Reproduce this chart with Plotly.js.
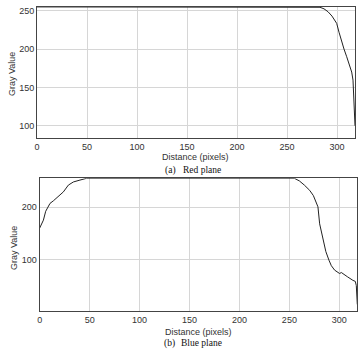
<!DOCTYPE html>
<html>
<head>
<meta charset="utf-8">
<script src="https://cdn.plot.ly/plotly-3.0.1.min.js"></script>
<style>html,body{margin:0;padding:0;background:#fff;}#chart{width:362px;height:350px;}</style>
</head>
<body>
<div id="chart"></div>
<script>
// Red plane profile (top)
const redDist = [0, 280, 283, 287, 291, 295, 299.7, 302, 304.7, 307, 309.7, 312, 314.7, 316, 317, 318];
const redGray = [255, 255, 254.5, 252.5, 248.7, 243, 233.5, 222, 209.5, 200, 190, 180, 170, 159.5, 136, 100];
// Blue plane profile (bottom)
const blueDist = [0, 1, 3.7, 6, 10.3, 13.7, 18.7, 23.7, 28.7, 33.7, 40.3, 44, 47, 255, 260, 265, 270.3, 274, 278.6, 280.3, 283.6, 286.5, 289.6, 292, 295.3, 298, 300.3, 302, 304, 308, 313.6, 316, 317, 318];
const blueGray = [160, 165, 175, 192, 207, 212, 220, 229, 242, 248, 251.6, 254, 255, 255, 250, 242, 232, 222, 200.5, 168, 136, 115, 98.6, 88, 79.5, 76, 73, 75, 72, 67, 60, 58, 50, 14];

const xTicks = [0, 50, 100, 150, 200, 250, 300];
const yTicksTop = [100, 150, 200, 250];
const yTicksBottom = [100, 200];

const W = 362, H = 350;
const px = v => v / W;
const py = v => 1 - v / H;

const tickFont = {family: 'Liberation Sans, Arial, sans-serif', size: 9, color: '#333'};
const axisCommon = {
  showline: true, mirror: true, linecolor: '#444', linewidth: 1,
  showgrid: true, gridcolor: '#d6d6d6', gridwidth: 1,
  zeroline: false, ticks: '', tickfont: tickFont, fixedrange: true
};

const traces = [
  {x: redDist, y: redGray, type: 'scatter', mode: 'lines', line: {color: '#222', width: 1}, xaxis: 'x', yaxis: 'y', hoverinfo: 'skip'},
  {x: blueDist, y: blueGray, type: 'scatter', mode: 'lines', line: {color: '#222', width: 1}, xaxis: 'x2', yaxis: 'y2', hoverinfo: 'skip'}
];

const labelFont = {family: 'Liberation Sans, Arial, sans-serif', size: 9, color: '#333'};
const capFont = {family: 'Liberation Serif, Times New Roman, serif', size: 9.5, color: '#111'};

const layout = {
  width: W, height: H,
  margin: {l: 0, r: 0, t: 0, b: 0},
  paper_bgcolor: '#fff', plot_bgcolor: '#fff',
  showlegend: false,
  xaxis: Object.assign({}, axisCommon, {domain: [px(37), px(355)], range: [0, 318], tickvals: xTicks, anchor: 'y'}),
  yaxis: Object.assign({}, axisCommon, {domain: [py(138), py(6.9)], range: [84, 255], tickvals: yTicksTop, anchor: 'x'}),
  xaxis2: Object.assign({}, axisCommon, {domain: [px(39.7), px(357.3)], range: [0, 318], tickvals: xTicks, anchor: 'y2'}),
  yaxis2: Object.assign({}, axisCommon, {domain: [py(310.7), py(178.3)], range: [2, 255], tickvals: yTicksBottom, anchor: 'x2'}),
  annotations: [
    {text: 'Gray Value', xref: 'paper', yref: 'paper', x: px(12), y: py(74), textangle: -90, showarrow: false, font: labelFont, xanchor: 'center', yanchor: 'middle'},
    {text: 'Distance (pixels)', xref: 'paper', yref: 'paper', x: px(196), y: py(156.7), showarrow: false, font: labelFont, xanchor: 'center', yanchor: 'middle'},
    {text: '(a)', xref: 'paper', yref: 'paper', x: px(162.7), y: py(170), showarrow: false, font: capFont, xanchor: 'left', yanchor: 'middle'},
    {text: 'Red plane', xref: 'paper', yref: 'paper', x: px(180.7), y: py(170), showarrow: false, font: capFont, xanchor: 'left', yanchor: 'middle'},
    {text: 'Gray Value', xref: 'paper', yref: 'paper', x: px(14), y: py(248), textangle: -90, showarrow: false, font: labelFont, xanchor: 'center', yanchor: 'middle'},
    {text: 'Distance (pixels)', xref: 'paper', yref: 'paper', x: px(198.3), y: py(331.7), showarrow: false, font: labelFont, xanchor: 'center', yanchor: 'middle'},
    {text: '(b)', xref: 'paper', yref: 'paper', x: px(161.7), y: py(343.3), showarrow: false, font: capFont, xanchor: 'left', yanchor: 'middle'},
    {text: 'Blue plane', xref: 'paper', yref: 'paper', x: px(178.5), y: py(343.3), showarrow: false, font: capFont, xanchor: 'left', yanchor: 'middle'}
  ]
};

Plotly.newPlot('chart', traces, layout, {staticPlot: true, displayModeBar: false});
</script>
</body>
</html>
